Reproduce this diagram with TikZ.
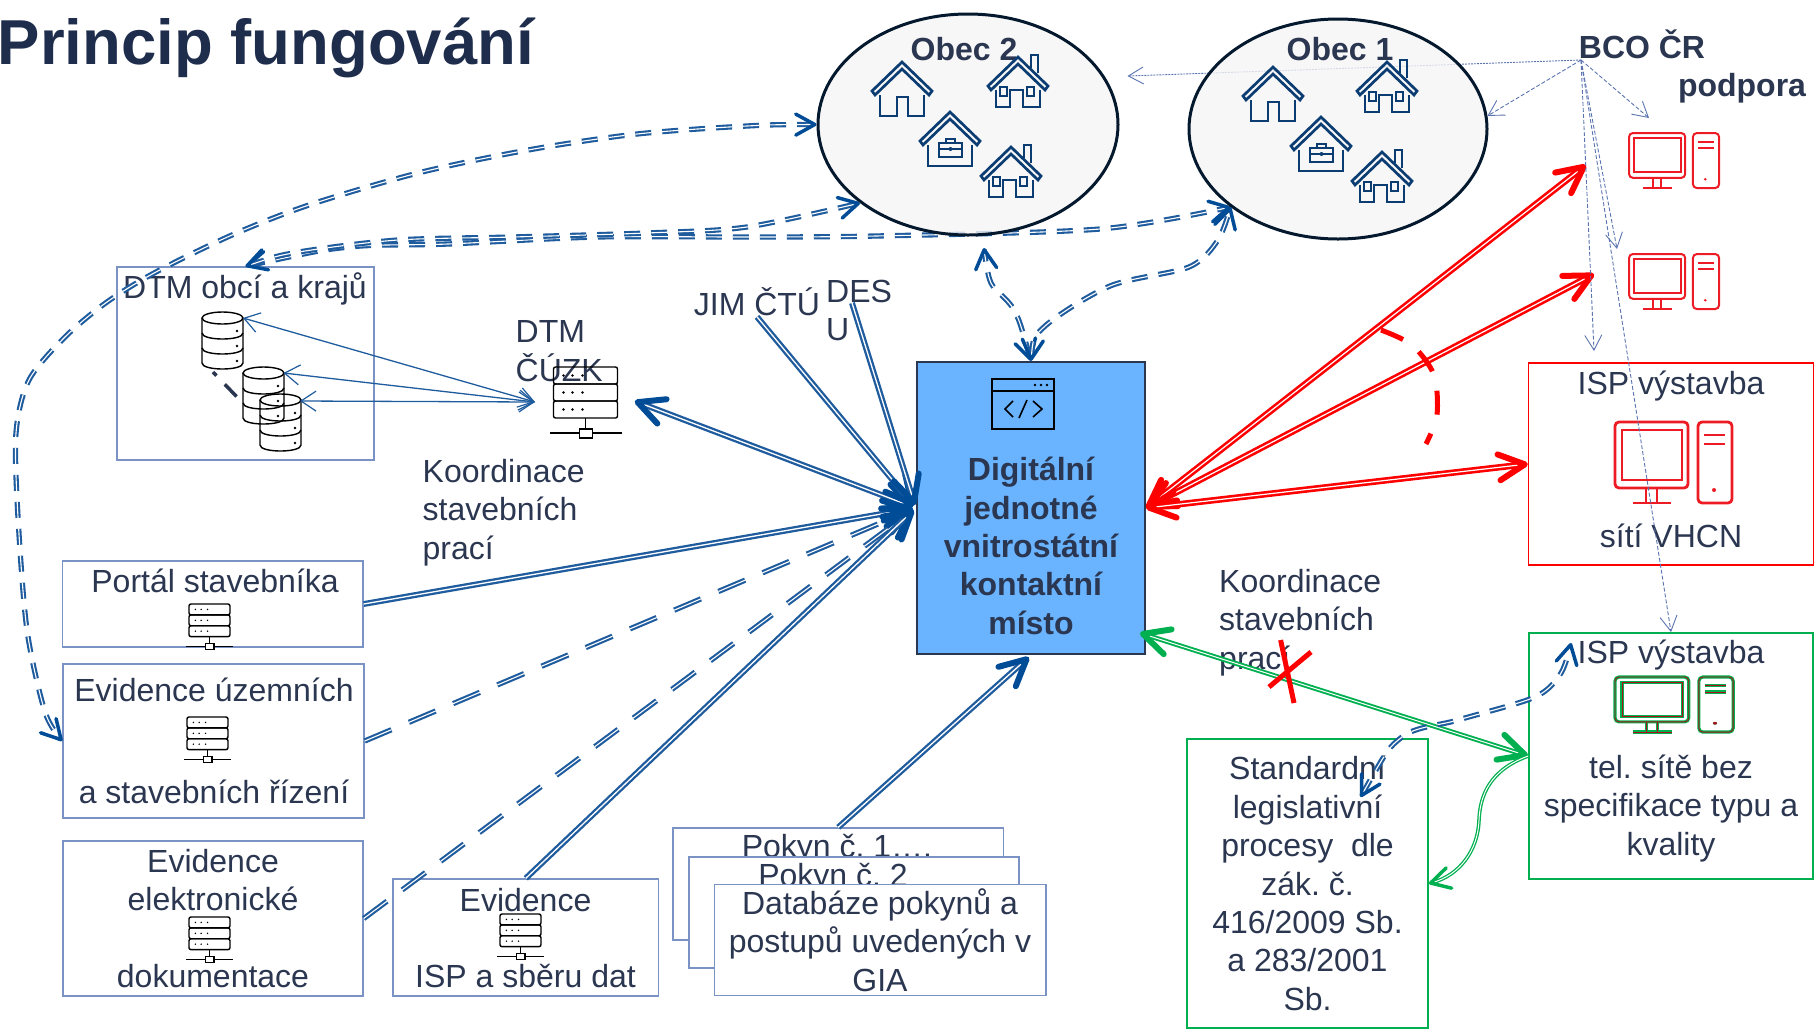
\documentclass[tikz,border=0pt]{standalone}
\usepackage{fontspec}
\setmainfont{Liberation Sans}
\usetikzlibrary{arrows.meta,positioning,shapes.geometric,backgrounds}
\definecolor{textnavy}{HTML}{2B3650}
\definecolor{titlenavy}{HTML}{1F2D4D}
\definecolor{boxblue}{HTML}{7A93C4}
\definecolor{linkblue}{HTML}{1F5C9E}
\definecolor{tipblue}{HTML}{004C97}
\definecolor{thinblue}{HTML}{5B74B0}
\definecolor{housenavy}{HTML}{0B3D73}
\definecolor{mainfill}{HTML}{69B3FF}
\definecolor{pcred}{HTML}{ED1C24}
\definecolor{linkgreen}{HTML}{00B050}
\tikzset{
    % Text:
    txt/.style={inner sep=0pt,text=textnavy,align=center,
    font=\fontsize{32}{38.4}\selectfont},
    boldtxt/.style={txt,font=\fontsize{32}{38.4}\selectfont\bfseries},
    % Boxes:
    infobox/.style={rectangle,draw=boxblue,line width=1.4pt,fill=white,
    inner sep=0pt},
    redbox/.style={infobox,draw=red},
    greenbox/.style={infobox,draw=linkgreen,line width=1.8pt},
    obecshape/.style={ellipse,draw=black!60!housenavy,line width=3pt,inner sep=0pt,
    fill=black!4,fill opacity=.8},
    % Connectors:
    bigtip/.tip={Straight Barb[length=26pt,width=26pt,line width=6pt,round]},
    dashtip/.tip={Straight Barb[length=19pt,width=21pt,line width=3.5pt,round]},
    thintip/.tip={Straight Barb[length=15pt,width=17pt,line width=.9pt]},
    bluelink/.style={draw=linkblue,double=white,line width=2.1pt,double distance=1.1pt},
    bluesolid/.style={bluelink,line width=2.3pt,double distance=1.3pt,shorten >=3pt,-{bigtip[color=tipblue]}},
    bluelong/.style={bluesolid,line width=2.1pt,double distance=1.1pt,dash pattern=on 29pt off 19pt},
    bluedash/.style={bluelink,dash pattern=on 16pt off 11pt,
    {dashtip[color=tipblue]}-{dashtip[color=tipblue]}},
    redlink/.style={draw=red,double=white,line width=2.6pt,double distance=1.2pt,
    {bigtip}-{bigtip}},
    greenlink/.style={draw=linkgreen,double=white,line width=1.9pt,double distance=1pt},
    thinlink/.style={draw=thinblue,line width=.9pt,dash pattern=on 4pt off 2pt,-{thintip}},
    dbline/.style={draw=linkblue,line width=1.3pt,{Straight Barb[length=15pt,width=20pt,line width=1.2pt]}-{Straight Barb[length=15pt,width=20pt,line width=1.2pt]}},
    % Icons, each from its top left corner:
    houseroof/.pic={
      \draw (0,29) -- (30,0) -- (60,29) -- (57,33) -- (30,7) -- (3,33) -- cycle;
    },
    houseplain/.pic={
      \pic {houseroof};
      \draw (8,33) -- (8,54) -- (25,54) -- (25,35) -- (36,35) -- (36,54) -- (52,54) -- (52,33);
    },
    housechimney/.pic={
      \pic at (0,2) {houseroof};
      \draw (43,13) -- (43,0) -- (50,0) -- (50,18);
      \draw (8,35) -- (8,52) -- (22,52) -- (22,35) -- (35,35) -- (35,52) -- (52,52) -- (52,35);
      \draw (12,32) rectangle (19,41) (39,32) rectangle (46,41);
    },
    housecase/.pic={
      \pic {houseroof};
      \draw (8,33) -- (8,54) -- (52,54) -- (52,33);
      \draw (19,31) rectangle (42,45) (19,37) -- (42,37);
      \draw (26,31) -- (26,27) -- (35,27) -- (35,31);
      \fill (30.5,37) circle (2pt);
    },
    server/.pic={
      \foreach \rowy in {0,17,34} {
        \draw [rounded corners=2pt] (0,\rowy) rectangle (64,\rowy+17);
        \foreach \dotx in {10,19,29} \fill (\dotx,\rowy+8.5) circle (1.3pt);
      }
      \draw (32,51) -- (32,66) (-4,66) -- (68,66);
      \draw [fill=white] (26,62) rectangle (39,71);
    },
    dbstack/.pic={
      \draw (20.5,6) ellipse [x radius=20.5,y radius=6];
      \draw (0,6) -- (0,51) .. controls (0,59) and (41,59) .. (41,51) -- (41,6);
      \draw (0,21) .. controls (0,29) and (41,29) .. (41,21);
      \draw (0,36) .. controls (0,44) and (41,44) .. (41,36);
      \foreach \roww in {19,34,49} \fill (35,\roww) circle (1.4pt);
    },
    computer/.pic={
      \draw [rounded corners=4pt] (0,0) rectangle (73,66);
      \draw (7,8) rectangle (67,58);
      \draw (31,66) -- (31,81) (42,66) -- (42,81) (18,81) -- (56,81);
      \draw [rounded corners=4pt] (83,0) rectangle (117,81);
      \draw (89,13) -- (110,13) (89,22) -- (110,22);
      \fill (99,68) circle (2pt);
    },
    codewin/.pic={
      \draw (0,0) rectangle (62,50) (0,12) -- (62,12);
      \foreach \dotx in {43,49,55} \fill (\dotx,6) circle (1.4pt);
      \draw (21,22) -- (13,30) -- (21,38) (35,21) -- (27,39) (41,22) -- (50,30) -- (41,38);
    },
}

\begin{document}
\frenchspacing
\begin{tikzpicture}[x=1pt,y=-1pt,line width=1.4pt]
    \useasboundingbox (0,0) rectangle (1814,1029);

    \node (title)   [boldtxt,anchor=base west,text=titlenavy,font=\fontsize{63.5}{70}\selectfont\bfseries] at (-3,64) {Princip fungování};

    % Villages
    \node (obec2)   [obecshape,minimum width=300pt,minimum height=221pt] at (968,124.5) {};
    \node (obec1)   [obecshape,minimum width=298pt,minimum height=220pt] at (1338,129) {};
    \node (obec2t)  [boldtxt] at (964,49) {Obec 2};
    \node (obec1t)  [boldtxt] at (1340,49) {Obec 1};
    \begin{scope}[color=housenavy,line width=2.7pt]
      \pic at (872,62) {houseplain};
      \pic at (988,55) {housechimney};
      \pic at (920,112) {housecase};
      \pic at (981,145) {housechimney};
      \pic at (1243,67) {houseplain};
      \pic at (1357,60) {housechimney};
      \pic at (1291,117) {housecase};
      \pic at (1352,150) {housechimney};
    \end{scope}

    % Left column
    \node (dtmobci) [infobox,minimum width=257pt,minimum height=193pt] at (245.5,363.5) {};
    \node (dtmobcit)[txt] at (245,289) {DTM obcí a krajů};
    \pic at (202,312) {dbstack};
    \pic at (243,367) {dbstack};
    \pic at (260,394) {dbstack};
    \draw [line width=3.5pt,color=textnavy,dash pattern=on 5pt off 12pt on 17pt off 40pt] (213,372) -- (237,397);

    \node (dtmcuzk) [txt,align=left,anchor=north west] at (515,320) {DTM\\ČÚZK};
    \pic at (553.5,367) {server};
    \coordinate (srvcuzk) at (632,400);
    \coordinate (srvin) at (535,402);
    \coordinate (dbone) at (243,318);
    \coordinate (dbtwo) at (283.5,373);
    \coordinate (dbthree) at (300,401);
    \node (koord)   [txt,align=left,anchor=north west] at (422,458.5) {Koordinace\\stavebních\\prací};

    \node (portal)  [infobox,minimum width=300.5pt,minimum height=86pt] at (212.75,604) {};
    \node (portalt) [txt] at (215,581) {Portál stavebníka};
    \pic [scale=.64] at (189,604) {server};

    \node (evuz)    [infobox,minimum width=301pt,minimum height=154pt] at (213.5,741) {};
    \node (evuzt)   [txt] at (214,690) {Evidence územních};
    \node (evuzb)   [txt] at (214,792) {a stavebních řízení};
    \pic [scale=.64] at (187,717) {server};

    \node (evel)    [infobox,minimum width=300pt,minimum height=155pt] at (213,918.5) {};
    \node (evelt)   [txt] at (213,880) {Evidence\\elektronické};
    \node (evelb)   [txt] at (213,976) {dokumentace};
    \pic [scale=.64] at (189,917) {server};

    \node (evisp)   [infobox,minimum width=265.5pt,minimum height=117pt] at (525.75,937.5) {};
    \node (evispt)  [txt] at (525.5,900) {Evidence};
    \node (evispb)  [txt] at (525.5,976) {ISP a sběru dat};
    \pic [scale=.64] at (500,914) {server};

    % Stacked sheets
    \node (pokyn1)  [infobox,minimum width=330.5pt,minimum height=112pt] at (838.25,884) {};
    \node (pokyn1t) [txt] at (837,849) {Pokyn č. 1….};
    \node (pokyn2)  [infobox,minimum width=330pt,minimum height=111pt] at (854,912.5) {};
    \node (pokyn2t) [txt] at (833,878) {Pokyn č. 2};
    \node (databaze)[infobox,txt,minimum width=331.6pt,minimum height=111pt] at (880,940) {Databáze pokynů a\\postupů uvedených v\\GIA};

    % Centre
    \node (main)    [rectangle,draw=textnavy,line width=2.4pt,fill=mainfill,minimum width=228pt,minimum height=292pt] at (1031,508) {};
    \node (maint)   [boldtxt] at (1031,546) {Digitální\\jednotné\\vnitrostátní\\kontaktní\\místo};
    \pic [line width=1.6pt,color=black] at (992,379) {codewin};
    \node (jim)     [txt] at (757,302) {JIM ČTÚ};
    \node (desu)    [txt,align=left,anchor=north west] at (825.5,279) {DES\\U};
    \coordinate (desfrom) at (852,303);

    % Right column
    \node (bco)     [boldtxt] at (1642,44) {BCO ČR};
    \node (podpora) [boldtxt] at (1742,88) {podpora};
    \coordinate (bcofrom) at (1581,60);
    \coordinate (pcone) at (1586,165);
    \coordinate (pctwo) at (1594,274);
    \coordinate (pconeup) at (1649,118);
    \coordinate (pctwoup) at (1617,249);
    \coordinate (ispup) at (1594,351);
    \coordinate (mainlow) at (1140,633);
    \pic [xscale=.77,yscale=.68,color=pcred,line width=2pt] at (1629,133) {computer};
    \pic [xscale=.77,yscale=.68,color=pcred,line width=2pt] at (1629,254) {computer};

    \node (ispred)  [redbox,minimum width=285pt,minimum height=202pt,fill=none] at (1671,464) {};
    \node (ispredt) [txt] at (1671,386) {ISP výstavba};
    \node (ispredb) [txt] at (1671,536) {sítí VHCN};
    \pic [color=pcred,line width=2.8pt] at (1615,422) {computer};

    \node (ispgreen)[greenbox,minimum width=284pt,minimum height=246pt,fill=none] at (1671,756) {};
    \node (ispgrt)  [txt] at (1671,655) {ISP výstavba};
    \node (ispgrb)  [txt] at (1671,808.5) {tel. sítě bez\\specifikace typu a\\kvality};
    \pic [xscale=1.01,yscale=.68,color=linkgreen,line width=3.2pt] at (1615,677) {computer};
    \pic [xscale=1.01,yscale=.68,color=pcred!70!black,line width=.9pt] at (1615,677) {computer};

    \node (std)     [greenbox,txt,minimum width=241pt,minimum height=289pt] at (1307.5,883.5) {Standardní\\legislativní\\procesy\ \ dle\\zák. č.\\416/2009 Sb.\\a 283/2001\\Sb.};
    \node (koordr)  [txt,align=left,anchor=north west] at (1218.5,568.5) {Koordinace\\stavebních\\prací};

    % These run behind the villages
    \begin{scope}[on background layer]
      \draw [thinlink,dash pattern=on 2pt off 1pt] (bcofrom) -- (1127.5,76);
      \draw [bluedash] plot [smooth] coordinates {(dtmobci.north) (349,247) (448,244) (597,237) (747,237) (876,236) (1100,229) (obec1.216)};
    \end{scope}

    % Links into the centre
    \draw [bluesolid,shorten <=3pt,{bigtip[color=tipblue]}-{bigtip[color=tipblue]}] (srvcuzk) -- (main.west);
    \draw [bluesolid] (jim.south) -- (main.west);
    \draw [bluesolid] (desfrom) -- (main.west);
    \draw [bluesolid] (portal.east) -- (main.west);
    \draw [bluelong] (evuz.east) -- (main.west);
    \draw [bluelong] (evel.east) -- (main.west);
    \draw [bluesolid] (evisp.north) -- (main.west);
    \draw [bluesolid] (pokyn1.north) -- (main.south);

    \draw [redlink] (main.east) -- (pcone);
    \draw [redlink] (main.east) -- (pctwo);
    \draw [redlink] (main.east) -- (ispred.west);
    \draw [red,line width=5pt,dash pattern=on 24pt off 20pt] plot [smooth] coordinates {(1381,330) (1412,345) (1434,375) (1437,415) (1426,444)};

    \draw [greenlink,{bigtip[color=linkgreen]}-{bigtip[color=linkgreen]}] (mainlow) -- (ispgreen.west);
    \draw [greenlink,line width=1.3pt,{dashtip[color=linkgreen]}-] (std.east) .. controls (1460,875) and (1478,850) .. (1479,820) .. controls (1480,795) and (1490,770) .. (ispgreen.west);
    \draw [red,line width=5pt] (1280.6,640) -- (1294,703) (1269,687) -- (1311,652);

    % Dashed links between villages and the rest
    \draw [bluedash] plot [smooth] coordinates {(obec2.west) (747,126) (637,134) (528,150) (418,173) (309,205) (232,235) (156,272) (107,302) (65,337) (29,380) (16,433) (18,517) (27,630) (45,712) (evuz.west)};
    \draw [bluedash] plot [smooth] coordinates {(dtmobci.north) (299,252) (398,240) (513,237) (647,233) (747,227) (obec2.216)};
    \draw [bluedash] plot [smooth] coordinates {(main.north) (1014,310) (991,283) (984,248)};
    \draw [bluedash] plot [smooth] coordinates {(main.north) (1044,327) (1110,286) (1189,267) (1218,240) (obec1.216)};
    \draw [bluedash] plot [smooth] coordinates {(1360.6,797) (1402,737) (1458,720) (1535,697) (1561,673) (1571,643)};

    % Thin links from the support label
    \draw [thinlink] (bcofrom) -- (obec1.5);
    \draw [thinlink] (bcofrom) -- (pconeup);
    \draw [thinlink] (bcofrom) -- (pctwoup);
    \draw [thinlink] (bcofrom) -- (ispup);
    \draw [thinlink] (bcofrom) -- (ispgreen.north);

    \draw [dbline] (srvin) -- (dbone);
    \draw [dbline] (srvin) -- (dbtwo);
    \draw [dbline] (srvin) -- (dbthree);
\end{tikzpicture}
\end{document}
